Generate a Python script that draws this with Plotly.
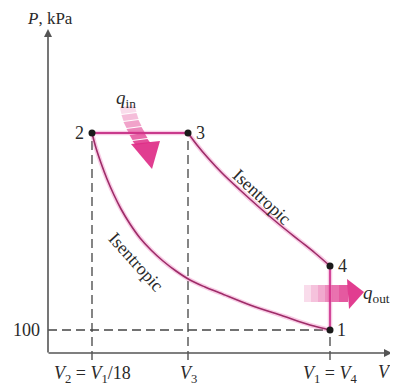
import plotly.graph_objects as go

# ---- schematic state data (diagram units, not to scale) ----
states = ["1", "2", "3", "4"]
V_state = [282, 44, 140, 282]
P_state = [23, 220, 220, 87]

# isentropic compression 1 -> 2 (from state 2 to state 1)
V_comp = [44, 48, 53, 59, 66, 73, 82, 92, 103, 115, 128, 142, 157, 172, 202, 235, 262, 282]
P_comp = [220, 205, 190, 174, 158, 144, 129, 115, 103, 92, 82, 73, 66, 60, 48, 37, 28, 23]

# isentropic expansion 3 -> 4
V_exp = [140, 149, 160, 174, 192, 212, 232, 252, 267, 282]
P_exp = [220, 208, 195, 180, 163, 145, 128, 112, 100, 87]

P_tick_label = "100"
V_tick_labels = ["<i>V</i><sub>2</sub> = <i>V</i><sub>1</sub>/18", "<i>V</i><sub>3</sub>", "<i>V</i><sub>1</sub> = <i>V</i><sub>4</sub>"]

W, H = 390, 378          # page body has an 8px margin
X0, Y0 = 48, 353          # screen pixel position of axis origin
OFF = 8


def pt(x, y):
    return x - X0, Y0 - y


def path(points):
    s = ""
    for i, (x, y) in enumerate(points):
        dx, dy = pt(x, y)
        s += ("M" if i == 0 else "L") + f"{dx},{dy} "
    return s + "Z"


SERIF = "Liberation Serif"
fig = go.Figure()

V1, V2, V3, V4 = V_state[0], V_state[1], V_state[2], V_state[3]
P1, P2, P3, P4 = P_state

dash = dict(color="#444444", width=1.3, dash="9px,5px")
# dashed guide lines
fig.add_trace(go.Scatter(x=[V2, V2], y=[-7, P2], mode="lines", line=dash, hoverinfo="skip"))
fig.add_trace(go.Scatter(x=[V3, V3], y=[-7, P3], mode="lines", line=dash, hoverinfo="skip"))
fig.add_trace(go.Scatter(x=[0, V1], y=[P1, P1], mode="lines", line=dash, hoverinfo="skip"))
fig.add_trace(go.Scatter(x=[V1, V1], y=[-7, P1], mode="lines", line=dash, hoverinfo="skip"))

# gradient heat arrows (decorative shapes)
shapes = []
pink = (222, 45, 135)
# q_in curved arrow
centre = [(127, 106), (129, 114), (131, 121), (134, 128), (137, 134), (140, 140), (143, 145)]
hw = 7.5
n = len(centre) - 1
for i in range(n):
    (xa, ya), (xb, yb) = centre[i], centre[i + 1]
    a = 0.04 + 0.8 * (i + 1) / n
    poly = [(xa - hw, ya + 1), (xb - hw, yb), (xb + hw, yb - 2), (xa + hw, ya - 1)]
    shapes.append(dict(type="path", path=path(poly), fillcolor=f"rgba({pink[0]},{pink[1]},{pink[2]},{a:.2f})",
                       line=dict(width=0), layer="above"))
shapes.append(dict(type="path", path=path([(131, 144), (160, 141), (152, 169)]),
                   fillcolor="rgba(222,45,135,0.92)", line=dict(width=0)))
# q_out straight arrow
xs = [304, 311, 318, 325, 332, 339, 348]
for i in range(len(xs) - 1):
    a = 0.04 + 0.75 * (i + 1) / (len(xs) - 1)
    poly = [(xs[i], 285), (xs[i + 1], 285), (xs[i + 1], 302), (xs[i], 302)]
    shapes.append(dict(type="path", path=path(poly), fillcolor=f"rgba({pink[0]},{pink[1]},{pink[2]},{a:.2f})",
                       line=dict(width=0)))
shapes.append(dict(type="path", path=path([(347, 279), (349, 309), (364, 292)]),
                   fillcolor="rgba(222,45,135,0.92)", line=dict(width=0)))

glow = dict(color="rgba(235,110,180,0.35)", width=4.5)
# processes
fig.add_trace(go.Scatter(x=[V2, V3], y=[P2, P3], mode="lines", line=glow, hoverinfo="skip"))
fig.add_trace(go.Scatter(x=[V2, V3], y=[P2, P3], mode="lines", line=dict(color="#c93a8c", width=2), hoverinfo="skip"))
fig.add_trace(go.Scatter(x=V_exp, y=P_exp, mode="lines", line=dict(shape="spline", **glow), hoverinfo="skip"))
fig.add_trace(go.Scatter(x=V_exp, y=P_exp, mode="lines", line=dict(shape="spline", color="#9e2c68", width=1.6), hoverinfo="skip"))
fig.add_trace(go.Scatter(x=V_comp, y=P_comp, mode="lines", line=dict(shape="spline", **glow), hoverinfo="skip"))
fig.add_trace(go.Scatter(x=V_comp, y=P_comp, mode="lines", line=dict(shape="spline", color="#9e2c68", width=1.6), hoverinfo="skip"))
fig.add_trace(go.Scatter(x=[V4, V1], y=[P4, P1], mode="lines", line=glow, hoverinfo="skip"))
fig.add_trace(go.Scatter(x=[V4, V1], y=[P4, P1], mode="lines", line=dict(color="#d2479a", width=2), hoverinfo="skip"))

# state points
fig.add_trace(go.Scatter(x=V_state, y=P_state, mode="markers",
                         marker=dict(color="#1a1a1a", size=7), hoverinfo="skip"))

ann = []
tfont = dict(family=SERIF, size=18, color="#2a2a2a")
# state labels
offsets = {"1": (11, 0), "2": (-13, 0), "3": (12, 0), "4": (12, 0)}
for s, v, p in zip(states, V_state, P_state):
    dx, dy = offsets[s]
    ann.append(dict(x=v + dx, y=p + dy, text=s, showarrow=False, font=tfont, xanchor="center", yanchor="middle"))

# axes with arrows
ann.append(dict(x=344, y=0, ax=-1, ay=0, axref="x", ayref="y", xref="x", yref="y", text="",
                showarrow=True, arrowhead=2, arrowsize=1, arrowwidth=1.6, arrowcolor="#555555"))
ann.append(dict(x=0, y=324, ax=0, ay=-1, axref="x", ayref="y", xref="x", yref="y", text="",
                showarrow=True, arrowhead=2, arrowsize=1, arrowwidth=1.6, arrowcolor="#555555"))

# axis labels and ticks
ann.append(dict(x=-6, y=P1, text=P_tick_label, showarrow=False, font=tfont, xanchor="right", yanchor="middle"))
for v, t in zip([V2, V3, V1], V_tick_labels):
    ann.append(dict(x=v, y=-21, text=t, showarrow=False, font=tfont, xanchor="center", yanchor="middle"))
ann.append(dict(x=336, y=-19, text="<i>V</i>", showarrow=False, font=tfont, xanchor="center", yanchor="middle"))
ann.append(dict(x=2, y=335, text="<i>P</i>, kPa", showarrow=False, font=dict(family=SERIF, size=17, color="#2a2a2a"),
                xanchor="center", yanchor="middle"))

# heat labels
ann.append(dict(x=78, y=254, text="<i>q</i><sub>in</sub>", showarrow=False,
                font=dict(family=SERIF, size=19, color="#2a2a2a"), xanchor="center", yanchor="middle"))
ann.append(dict(x=328, y=59, text="<i>q</i><sub>out</sub>", showarrow=False,
                font=dict(family=SERIF, size=19, color="#2a2a2a"), xanchor="center", yanchor="middle"))

# process labels
ann.append(dict(x=214, y=156, text="Isentropic", showarrow=False, textangle=43,
                font=dict(family=SERIF, size=18, color="#2a2a2a"), xanchor="center", yanchor="middle"))
ann.append(dict(x=88, y=91, text="Isentropic", showarrow=False, textangle=48,
                font=dict(family=SERIF, size=18, color="#2a2a2a"), xanchor="center", yanchor="middle"))

fig.update_layout(
    width=W, height=H, margin=dict(l=0, r=0, t=0, b=0),
    paper_bgcolor="white", plot_bgcolor="white", showlegend=False,
    xaxis=dict(range=[-X0 + OFF, W + OFF - X0], visible=False, fixedrange=True),
    yaxis=dict(range=[Y0 - H - OFF, Y0 - OFF], visible=False, fixedrange=True),
    shapes=shapes, annotations=ann,
)
fig.write_html("out.html")
